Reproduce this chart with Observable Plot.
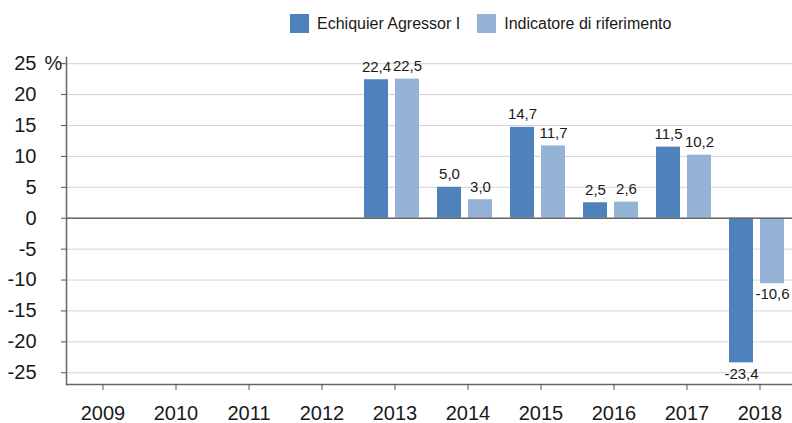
<!DOCTYPE html>
<html><head><meta charset="utf-8">
<script src="https://cdn.jsdelivr.net/npm/d3@7"></script>
<script src="https://cdn.jsdelivr.net/npm/@observablehq/plot@0.6"></script>
<style>
body{margin:0;background:#fff;font-family:"Liberation Sans",Arial,sans-serif;overflow:hidden;width:792px}
#legend{height:40px;display:flex;align-items:flex-start;padding-left:290px;box-sizing:border-box;padding-top:14px;font-size:16px;color:#1a1a1a}
.item{display:flex;align-items:center;margin-right:17px;height:19px}
.sw{width:19px;height:19px;margin-right:8px}
#chart{width:792px;overflow:hidden}
</style></head><body>
<div id="legend"></div>
<div id="chart"></div>
<script>
const years = ["2009","2010","2011","2012","2013","2014","2015","2016","2017","2018"];
const seriesNames = ["Echiquier Agressor I", "Indicatore di riferimento"];
const fundValues = [null, null, null, null, 22.4, 5.0, 14.7, 2.5, 11.5, -23.4];
const benchValues = [null, null, null, null, 22.5, 3.0, 11.7, 2.6, 10.2, -10.6];
const yTicks = [-25, -20, -15, -10, -5, 0, 5, 10, 15, 20, 25];
const colors = ["#4f81bd", "#95b3d7"];

// legend
const legend = document.getElementById("legend");
seriesNames.forEach((name, i) => {
  const it = document.createElement("div"); it.className = "item";
  const sw = document.createElement("div"); sw.className = "sw"; sw.style.background = colors[i];
  const tx = document.createElement("span"); tx.textContent = name;
  it.appendChild(sw); it.appendChild(tx); legend.appendChild(it);
});

const rows = [];
years.forEach((yr, i) => {
  [fundValues, benchValues].forEach((arr, j) => {
    rows.push({year: yr, series: seriesNames[j], value: arr[i]});
  });
});
const valid = rows.filter(d => d.value != null);
const fmt = v => v.toFixed(1).replace(".", ",");
const yDomain = [-26.9, 26];

const chart = Plot.plot({
  width: 796, height: 383,
  marginTop: 17, marginBottom: 39, marginLeft: 66, marginRight: 0,
  style: {fontFamily: "'Liberation Sans', Arial, sans-serif", color: "#1a1a1a", background: "#fff", maxWidth: "none"},
  fx: {domain: years, padding: 0, label: null},
  x: {domain: seriesNames, paddingInner: 0.224, paddingOuter: 0.263, align: 0.35, axis: null},
  y: {domain: yDomain, label: null},
  color: {domain: seriesNames, range: colors},
  marks: [
    Plot.gridY(yTicks, {stroke: "#d4d4d4", strokeOpacity: 1}),
    Plot.barY(rows, {fx: "year", x: "series", y: "value", fill: "series"}),
    Plot.ruleY([0], {stroke: "#666", strokeWidth: 1.6}),
    Plot.ruleY([yDomain[0]], {stroke: "#666", strokeWidth: 1.5}),
    Plot.frame({anchor: "left", facetAnchor: "left", stroke: "#666", strokeWidth: 1.5}),
    Plot.axisY(yTicks, {tickSize: 5, tickPadding: 25, fontSize: 20, tickFormat: d => String(d), label: null, stroke: "#555"}),
    Plot.axisFx({anchor: "bottom", tickSize: 6, tickPadding: 15, fontSize: 20, label: null, stroke: "#555"}),
    Plot.text(valid.filter(d => d.value >= 0), {fx: "year", x: "series", y: "value", text: d => fmt(d.value), lineAnchor: "bottom", dy: -8, fontSize: 15, fill: "#1a1a1a"}),
    Plot.text(valid.filter(d => d.value < 0), {fx: "year", x: "series", y: "value", text: d => fmt(d.value), lineAnchor: "top", dy: 5, fontSize: 15, fill: "#1a1a1a"}),
    Plot.text([{year: years[0], v: yTicks[yTicks.length - 1]}], {fx: "year", y: "v", text: () => "%", frameAnchor: "left", textAnchor: "start", dx: -22, fontSize: 20, fill: "#1a1a1a"})
  ]
});
document.getElementById("chart").appendChild(chart);
</script>
</body></html>
